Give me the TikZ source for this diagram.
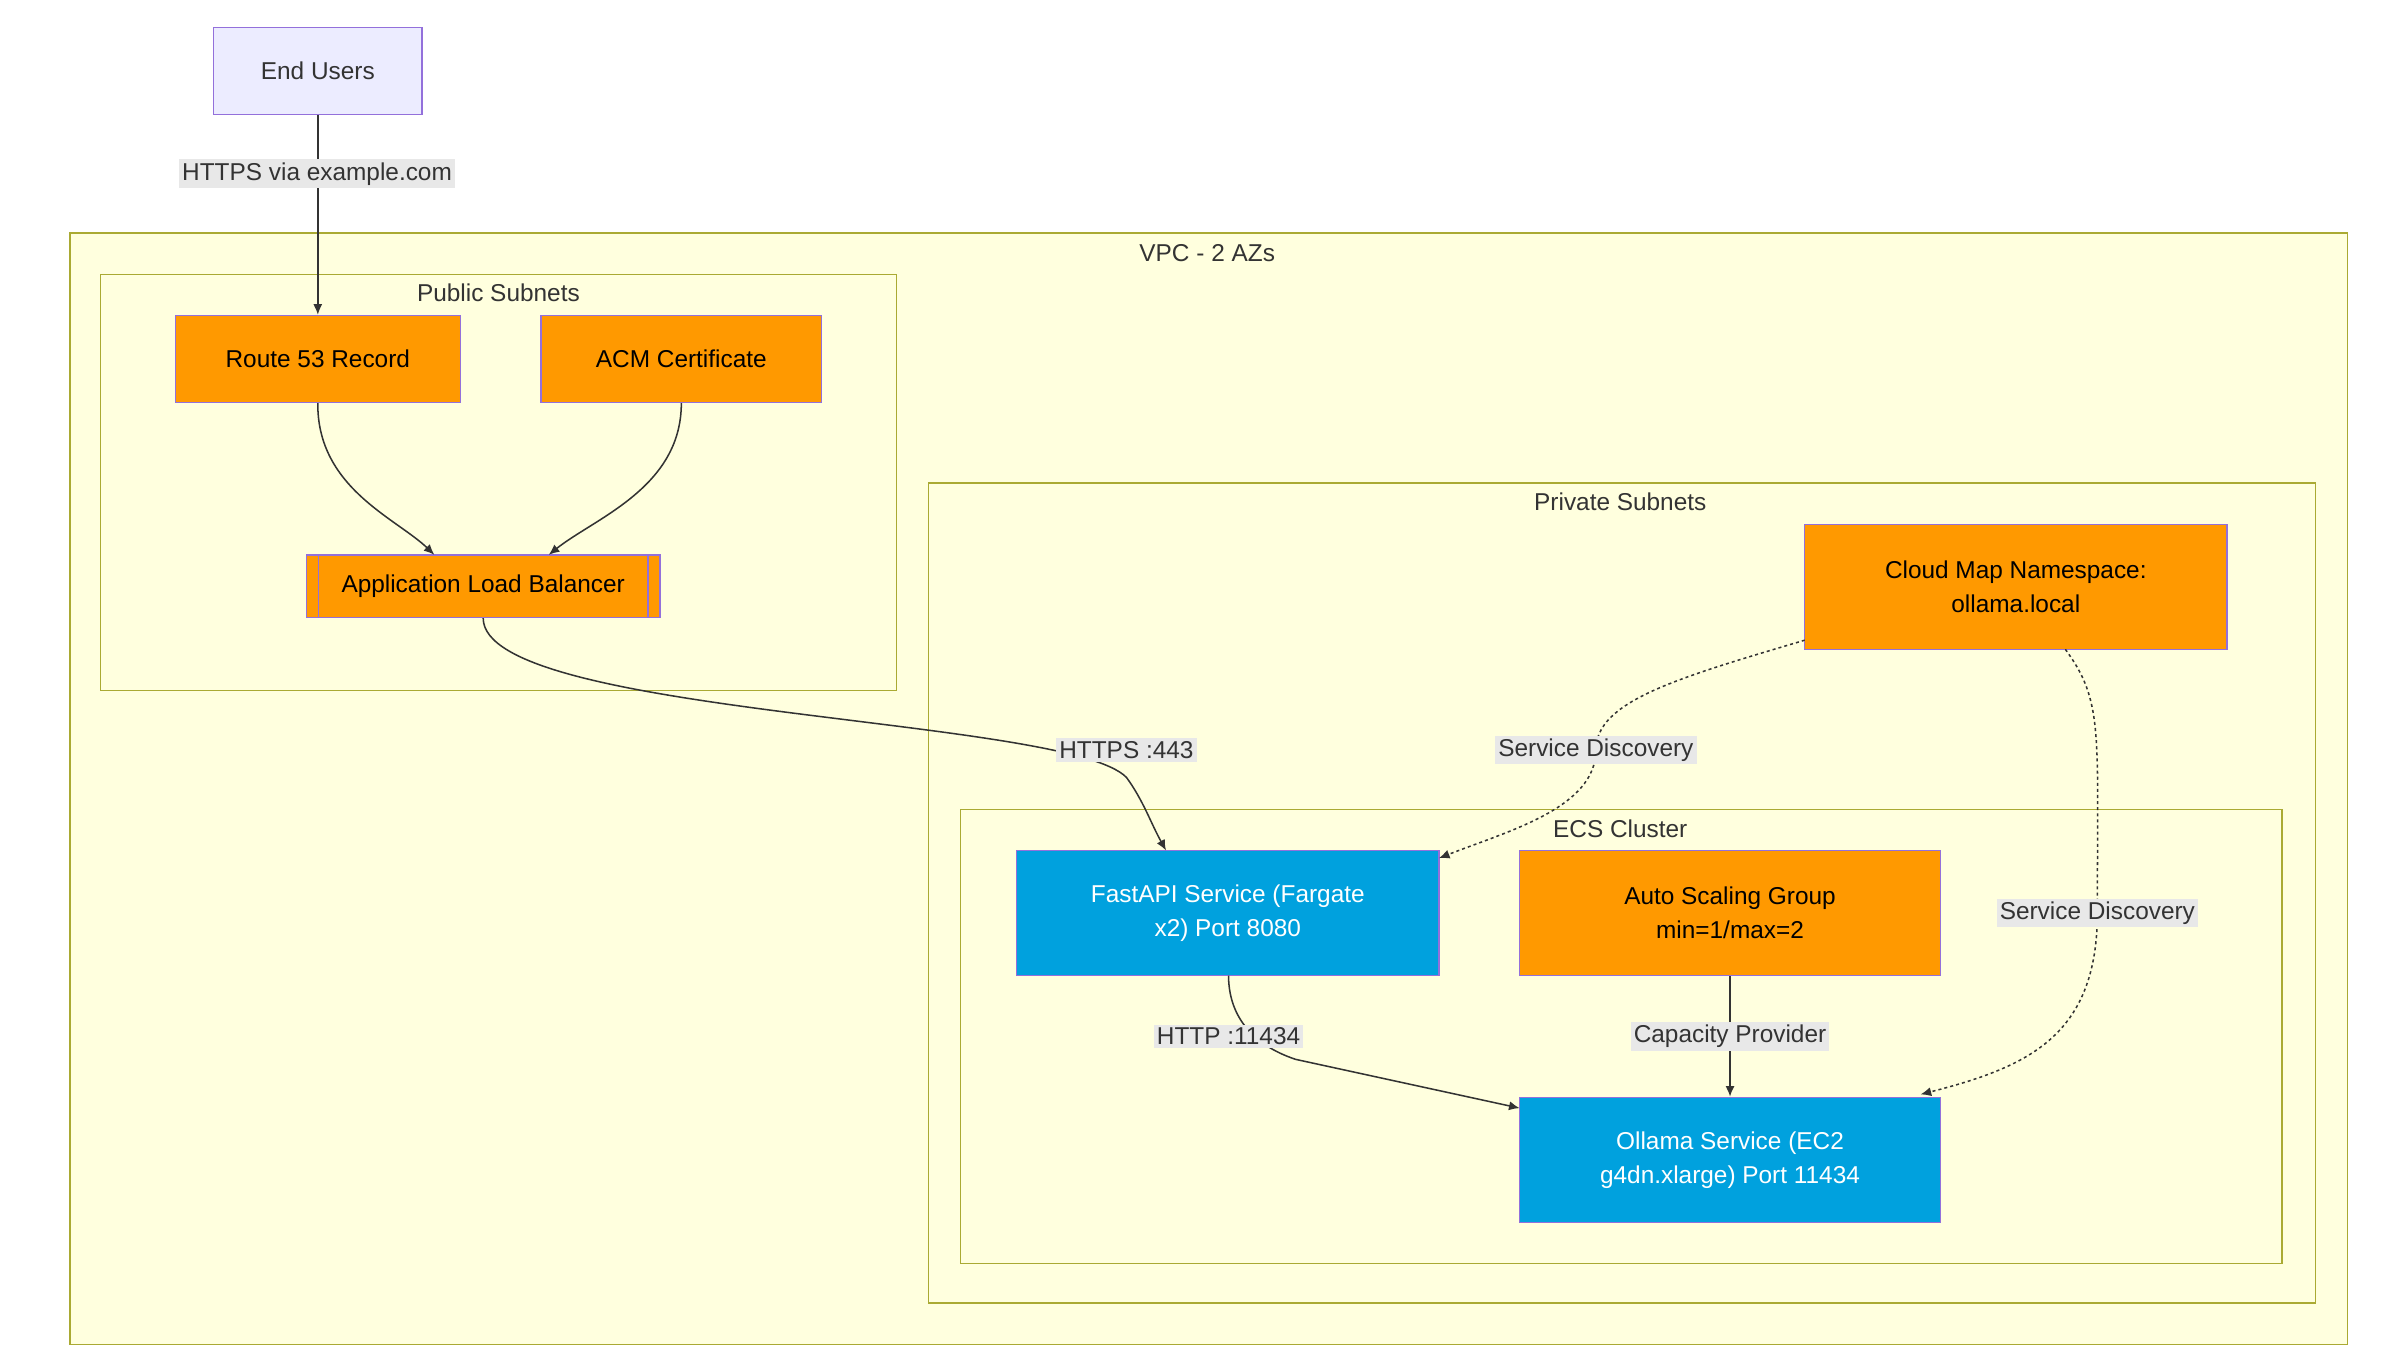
\documentclass[tikz,border=0pt]{standalone}
\usepackage{fontspec}
\setmainfont{Liberation Sans}
\usetikzlibrary{arrows.meta}
\definecolor{grp}{HTML}{FFFFDE}
\definecolor{grpb}{HTML}{AAAA33}
\definecolor{org}{HTML}{FF9900}
\definecolor{blu}{HTML}{00A1DE}
\definecolor{pur}{HTML}{9370DB}
\definecolor{usr}{HTML}{ECECFF}
\definecolor{txt}{HTML}{333333}
\definecolor{lbl}{HTML}{E8E8E8}
\tikzset{
 x=1pt,y=-1pt,
 every node/.style={font=\fontsize{16}{22}\selectfont,text=txt},
 grpbox/.style={draw=grpb,fill=grp,line width=1pt},
 box/.style={draw=pur,line width=1pt,align=center},
 ob/.style={box,fill=org,text=black},
 bb/.style={box,fill=blu,text=white},
 lab/.style={fill=lbl,inner sep=2pt,text=txt},
 e/.style={draw=txt,line width=1pt,-{Latex[length=7pt,width=6pt]}},
 d/.style={e,dash pattern=on 2pt off 2pt},
}
\begin{document}
\begin{tikzpicture}
\useasboundingbox (0,0) rectangle (1568,897);
\fill[white] (0,0) rectangle (1568,897);
\draw[grpbox] (46,153) rectangle (1540,882);
\node at (792,166) {VPC - 2 AZs};
\draw[grpbox] (66,180) rectangle (588,453);
\node at (327,192) {Public Subnets};
\draw[grpbox] (609,317) rectangle (1519,855);
\node at (1063,329) {Private Subnets};
\draw[grpbox] (630,531) rectangle (1497,829);
\node at (1063,544) {ECS Cluster};

\node[box,fill=usr,minimum width=137pt,minimum height=57pt] (u) at (208.5,46.5) {End Users};
\node[ob,minimum width=187pt,minimum height=57pt] (r) at (208.5,235.5) {Route 53 Record};
\node[ob,minimum width=184pt,minimum height=57pt] (acm) at (447,235.5) {ACM Certificate};
\node[ob,minimum width=232pt,minimum height=41pt] (alb) at (317,384.5) {Application Load Balancer};
\draw[pur,line width=1pt] (209,364) -- (209,405) (425,364) -- (425,405);
\node[ob,minimum width=277pt,minimum height=82pt] (cm) at (1322.5,385) {Cloud Map Namespace:\\ollama.local};
\node[bb,minimum width=277pt,minimum height=82pt] (fa) at (805.5,599) {FastAPI Service (Fargate\\x2) Port 8080};
\node[ob,minimum width=276pt,minimum height=82pt] (asg) at (1135,599) {Auto Scaling Group\\min=1/max=2};
\node[bb,minimum width=276pt,minimum height=82pt] (ol) at (1135,761) {Ollama Service (EC2\\g4dn.xlarge) Port 11434};

\draw[e] (u.south) -- (r.north);
\node[lab] at (208,114) {HTTPS via example.com};
\draw[e] (r.south) .. controls (208,320) and (260,340) .. (285,364);
\draw[e] (acm.south) .. controls (447,320) and (390,340) .. (360,364);
\draw[e] (alb.south) .. controls (317,470) and (700,470) .. (739,510) .. controls (750,525) and (755,540) .. (765,558);
\node[lab] at (739,492) {HTTPS :443};
\draw[d] (1184,420) .. controls (1100,445) and (1047,460) .. (1047,492) .. controls (1047,530) and (990,545) .. (944,563);
\node[lab] at (1047,492) {Service Discovery};
\draw[d] (1355,426) .. controls (1380,460) and (1376,480) .. (1376,599) .. controls (1376,680) and (1330,700) .. (1260,718);
\node[lab] at (1376,599) {Service Discovery};
\draw[e] (806,640) .. controls (806,665) and (820,685) .. (850,695) -- (997,727);
\node[lab] at (806,680) {HTTP :11434};
\draw[e] (asg.south) -- (ol.north);
\node[lab] at (1135,680) {Capacity Provider};
\end{tikzpicture}
\end{document}
